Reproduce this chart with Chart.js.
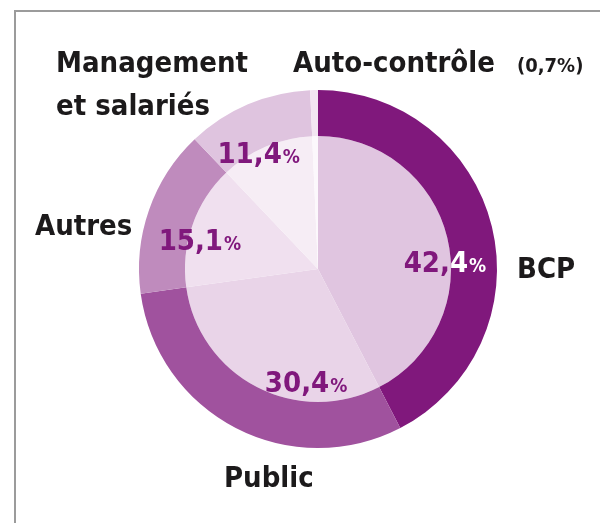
<!DOCTYPE html>
<html>
<head>
<meta charset="utf-8">
<script src="https://cdn.jsdelivr.net/npm/chart.js@4.4.1/dist/chart.umd.min.js"></script>
<style>
  html, body { margin: 0; padding: 0; background: #fff; }
  #cadre { position: relative; width: 600px; height: 523px; }
  #cadre::before {
    content: ""; position: absolute; left: 14px; top: 10px; right: 0; bottom: 0;
    border-top: 2px solid #9b9b9b; border-left: 2px solid #9b9b9b;
  }
  canvas { position: absolute; left: 0; top: 0; }
</style>
</head>
<body>
<div id="cadre"><canvas id="myChart" width="600" height="523"></canvas></div>
<script>
const categories = ["BCP", "Public", "Autres", "Management et salariés", "Auto-contrôle"];
const parts = [42.4, 30.4, 15.1, 11.4, 0.7];

const couleursExt = ["#80187c", "#a0529e", "#bf8bbd", "#dfc4df", "#f3e5f2"];
const couleursInt = ["#e0c5e0", "#e9d4e8", "#f0e0ef", "#f6edf5", "#fcf8fc"];
const violet = "#80187c";

// ou placer les pourcentages : angle (degres depuis midi) et rayon relatif
const ancres = [[87, 0.71], [186, 0.635], [284, 0.68], [333, 0.73]];

function fmt(v) {
  return v.toFixed(1).replace(".", ",");
}

const etiquettes = {
  id: "etiquettes",
  afterDraw(chart) {
    const ctx = chart.ctx;
    const ext = chart.getDatasetMeta(0).data;
    const cx = ext[0].x, cy = ext[0].y, R = ext[0].outerRadius;

    // noms des categories
    ctx.save();
    ctx.fillStyle = "#1c1a1b";
    ctx.textAlign = "left";
    ctx.textBaseline = "alphabetic";
    ctx.font = "bold 29px 'DejaVu Sans Condensed'";
    ctx.fillText(categories[0], 517, 278);
    ctx.fillText(categories[1], 224, 487);
    ctx.fillText(categories[2], 35, 235);
    ctx.fillText("Management", 56, 72);
    ctx.fillText("et salariés", 56, 115);
    ctx.fillText(categories[4], 293, 72);
    ctx.font = "bold 20px 'DejaVu Sans Condensed'";
    ctx.fillText("(" + fmt(parts[4]) + "%)", 517, 72);
    ctx.restore();

    // pourcentages
    const fNum = "bold 29px 'DejaVu Sans Condensed'";
    const fPct = "bold 19px 'DejaVu Sans Condensed'";
    function ecrire(i, couleur) {
      const a = (ancres[i][0] - 90) * Math.PI / 180;
      const x = cx + Math.cos(a) * R * ancres[i][1];
      const y = cy + Math.sin(a) * R * ancres[i][1];
      const txt = fmt(parts[i]);
      ctx.font = fNum;
      const w1 = ctx.measureText(txt).width;
      ctx.font = fPct;
      const w2 = ctx.measureText("%").width;
      const x0 = x - (w1 + w2 + 1) / 2;
      const base = y + 10;
      ctx.fillStyle = couleur;
      ctx.textAlign = "left";
      ctx.font = fNum;
      ctx.fillText(txt, x0, base);
      ctx.font = fPct;
      ctx.fillText("%", x0 + w1 + 1, base);
    }
    for (let i = 0; i < ancres.length; i++) {
      ctx.save();
      ecrire(i, violet);
      ctx.restore();
      // en blanc sur la couronne foncee
      const arc = ext[0];
      ctx.save();
      ctx.beginPath();
      ctx.arc(arc.x, arc.y, arc.outerRadius, arc.startAngle, arc.endAngle);
      ctx.arc(arc.x, arc.y, arc.innerRadius, arc.endAngle, arc.startAngle, true);
      ctx.closePath();
      ctx.clip();
      ecrire(i, "#ffffff");
      ctx.restore();
    }
  }
};

const ctx = document.getElementById("myChart");
const myChart = new Chart(ctx, {
  type: "doughnut",
  data: {
    labels: categories,
    datasets: [
      { data: parts, backgroundColor: couleursExt, borderWidth: 0, weight: 46 },
      { data: parts, backgroundColor: couleursInt, borderWidth: 0, weight: 133 }
    ]
  },
  options: {
    responsive: false,
    animation: false,
    cutout: 0,
    layout: { padding: { left: 139, right: 103, top: 90, bottom: 75 } },
    plugins: {
      legend: { display: false },
      tooltip: { enabled: false }
    },
    events: []
  },
  plugins: [etiquettes]
});
</script>
</body>
</html>
